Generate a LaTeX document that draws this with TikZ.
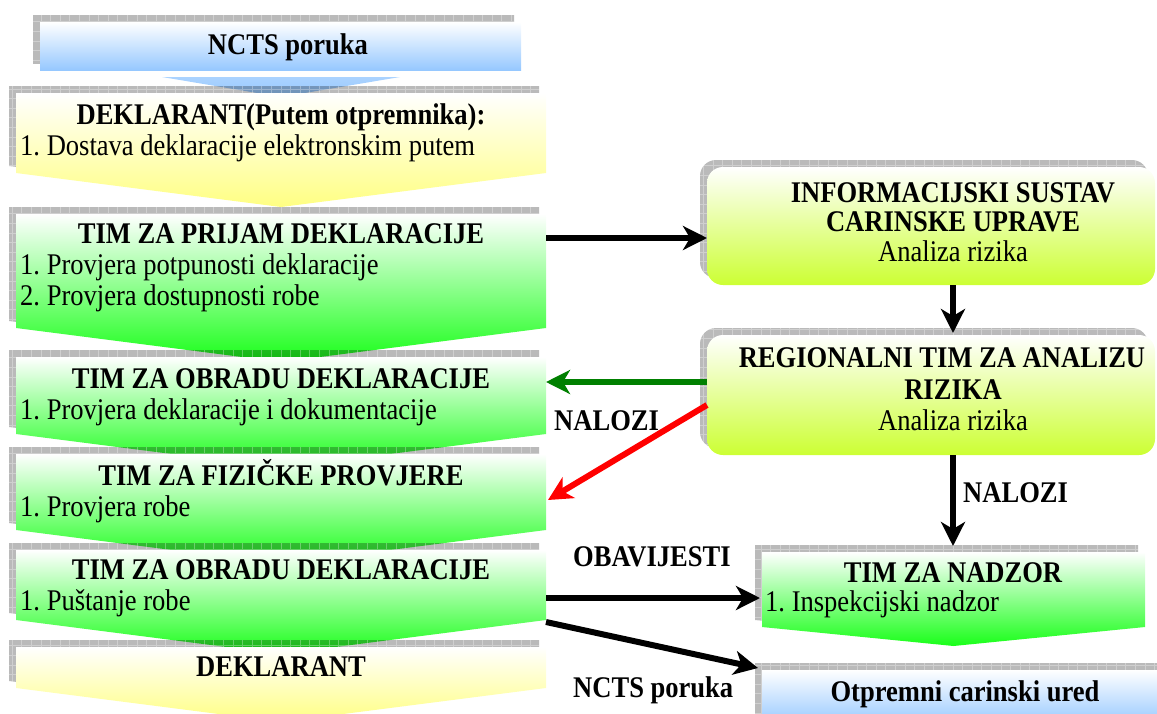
\documentclass[tikz,border=0pt]{standalone}
\usepackage{fontspec}
\setmainfont{Liberation Serif}[FakeStretch=0.885]
\usetikzlibrary{arrows.meta}
\definecolor{grn}{RGB}{25,255,25}
\definecolor{ylw}{RGB}{255,255,130}
\definecolor{blu}{RGB}{150,200,255}
\definecolor{limeg}{RGB}{204,255,51}
\definecolor{dgreen}{RGB}{0,128,0}
\newcommand\shd[1]{\begin{scope}[shift={(-7,-7)}]\clip[#1];\fill[black,opacity=0.27] (0,0) rectangle (1200,740);\draw[white,opacity=0.3,line width=0.7pt] (0,0) grid[step=9.6pt] (1200,740);\end{scope}}
\frenchspacing
\begin{document}
\begin{tikzpicture}[x=1pt,y=-1pt,
  chev/.style n args={5}{insert path={(#1,#3) -- (#2,#3) -- (#2,#4) -- ({(#1+#2)/2},#5) -- (#1,#4) -- cycle}},
  rbox/.style n args={4}{rounded corners=16pt, insert path={(#1,#3) rectangle (#2,#4)}},
  sbox/.style n args={4}{insert path={(#1,#3) rectangle (#2,#4)}},
  head/.style={font=\bfseries\fontsize{30}{31}\selectfont, inner sep=0pt, anchor=base},
  body/.style={font=\fontsize{30}{31}\selectfont, inner sep=0pt, anchor=base west},
  bodyc/.style={font=\fontsize{30}{31}\selectfont, inner sep=0pt, anchor=base},
  lab/.style={font=\bfseries\fontsize{30}{31}\selectfont, inner sep=0pt, anchor=base west},
  arr/.style={line width=6pt, -{Stealth[length=24pt,width=24pt,inset=7pt]}}
]
\useasboundingbox (0,0) rectangle (1157,713);
\clip (0,0) rectangle (1157,713);

% ---- left column ----
\shd{sbox={40}{521}{22}{70}}
\path[sbox={40}{521}{22}{70}, top color=white, bottom color=blu];
\path[top color=blu!80, bottom color=blu] (162,77) -- (400,77) -- (281,97) -- cycle;

\shd{chev={16}{546}{93}{173}{207}}
\path[chev={16}{546}{93}{173}{207}, top color=white, bottom color=ylw];

\shd{chev={16}{546}{214}{328}{362}}
\path[chev={16}{546}{214}{328}{362}, top color=white, bottom color=grn];

\shd{chev={16}{546}{357}{434}{468}}
\path[chev={16}{546}{357}{434}{468}, top color=white, bottom color=grn];

\shd{chev={16}{546}{454}{530}{564}}
\path[chev={16}{546}{454}{530}{564}, top color=white, bottom color=grn];

\shd{chev={16}{546}{550}{620}{654}}
\path[chev={16}{546}{550}{620}{654}, top color=white, bottom color=grn];

\shd{chev={16}{546}{647}{688}{722}}
\path[chev={16}{546}{647}{688}{722}, top color=white, bottom color=ylw];

% ---- right column ----
\shd{rbox={707}{1155}{167}{285}}
\path[rbox={707}{1155}{167}{285}, top color=white, bottom color=limeg];

\shd{rbox={707}{1155}{335}{455}}
\path[rbox={707}{1155}{335}{455}, top color=white, bottom color=limeg];

\shd{chev={762}{1145}{552}{627}{646}}
\path[chev={762}{1145}{552}{627}{646}, top color=white, bottom color=grn];

\shd{sbox={762}{1170}{670}{725}}
\path[sbox={762}{1170}{670}{725}, top color=white, bottom color=blu];

% ---- texts ----
\node[head] (tA) at (288,54) {NCTS poruka};
\node[head] (tB) at (281,124.5) {DEKLARANT(Putem otpremnika):};
\node[body] (tB1) at (20,155) {1. Dostava deklaracije elektronskim putem};
\node[head] (tC) at (281,243.5) {TIM ZA PRIJAM DEKLARACIJE};
\node[body] (tC1) at (20,274.5) {1. Provjera potpunosti deklaracije};
\node[body] (tC2) at (20,305.5) {2. Provjera dostupnosti robe};
\node[head] (tD) at (281,388.5) {TIM ZA OBRADU DEKLARACIJE};
\node[body] (tD1) at (20,419.5) {1. Provjera deklaracije i dokumentacije};
\node[head] (tE) at (281,485.5) {TIM ZA FIZIČKE PROVJERE};
\node[body] (tE1) at (20,516.5) {1. Provjera robe};
\node[head] (tF) at (281,579.5) {TIM ZA OBRADU DEKLARACIJE};
\node[body] (tF1) at (20,610.5) {1. Puštanje robe};
\node[head] (tG) at (281,676.5) {DEKLARANT};

\node[head] (tH) at (953,202.5) {INFORMACIJSKI SUSTAV};
\node[head] (tH2) at (953,231.5) {CARINSKE UPRAVE};
\node[bodyc] (tH3) at (953,261) {Analiza rizika};
\node[head] (tI) at (942,367.5) {REGIONALNI TIM ZA ANALIZU};
\node[head] (tI2) at (953,399.5) {RIZIKA};
\node[bodyc] (tI3) at (953,430.5) {Analiza rizika};
\node[head] (tJ) at (953,582.5) {TIM ZA NADZOR};
\node[body] (tJ1) at (765,611.5) {1. Inspekcijski nadzor};
\node[head] (tK) at (965,701.5) {Otpremni carinski ured};

\node[lab] (lNal1) at (554,430.5) {NALOZI};
\node[lab] (lNal2) at (963,502.5) {NALOZI};
\node[lab] (lObav) at (573,566.5) {OBAVIJESTI};
\node[lab] (lNcts) at (573,697.5) {NCTS poruka};

% ---- connector ends ----
\coordinate (C-e) at (546,238);
\coordinate (H-w) at (707,238);
\coordinate (H-s) at (953,285);
\coordinate (I-n) at (953,333);
\coordinate (I-w1) at (707,382);
\coordinate (D-e) at (546,382);
\coordinate (I-w2) at (707,405);
\coordinate (E-e) at (548,500);
\coordinate (I-s) at (953,455);
\coordinate (J-n) at (953,546);
\coordinate (F-e1) at (546,598);
\coordinate (J-w) at (760,598);
\coordinate (F-e2) at (546,622);
\coordinate (K-nw) at (758,668);

\draw[arr] (C-e) -- (H-w);
\draw[arr] (H-s) -- (I-n);
\draw[arr, dgreen] (I-w1) -- (D-e);
\draw[arr, red] (I-w2) -- (E-e);
\draw[arr] (I-s) -- (J-n);
\draw[arr] (F-e1) -- (J-w);
\draw[arr] (F-e2) -- (K-nw);
\end{tikzpicture}
\end{document}
